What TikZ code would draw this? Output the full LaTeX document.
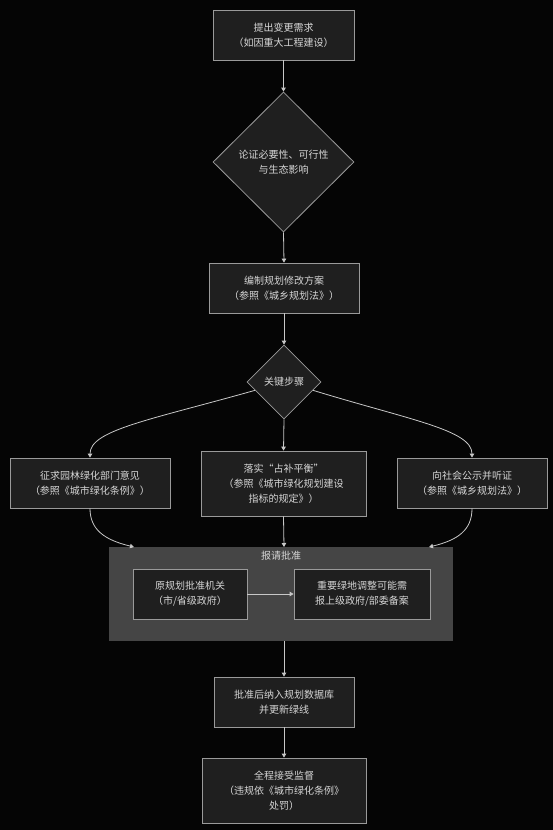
\documentclass[tikz,border=0pt]{standalone}
\usepackage{fontspec}
\setmainfont{Noto Sans CJK SC}
\usetikzlibrary{shapes.geometric,arrows.meta}
\definecolor{bgc}{HTML}{050505}
\definecolor{nodefill}{HTML}{1F1F1F}
\definecolor{nodeline}{HTML}{9A9A9A}
\definecolor{txt}{HTML}{D6D6D6}
\definecolor{grpfill}{HTML}{454545}
\definecolor{arr}{HTML}{C8C8C8}
\tikzset{
  box/.style={rectangle, draw=nodeline, fill=nodefill, line width=0.8pt, inner sep=0pt,
    text=txt, align=center, font=\fontsize{10}{15}\selectfont},
  dia/.style={diamond, draw=nodeline, fill=nodefill, line width=0.8pt, inner sep=0pt,
    text=txt, align=center, font=\fontsize{10}{15}\selectfont},
  grpbox/.style={rectangle, fill=grpfill, draw=none, inner sep=0pt},
  conn/.style={draw=arr, line width=0.8pt, -{Triangle[width=4.5pt,length=4pt]}},
}
\begin{document}
\begin{tikzpicture}[x=1pt,y=-1pt]
\fill[bgc] (0,0) rectangle (553,830);
\useasboundingbox (0,0) rectangle (553,830);

\node[box, minimum width=141pt, minimum height=50pt] (b1) at (283.5,35) {提出变更需求\\（如因重大工程建设）};
\node[dia, minimum width=141pt, minimum height=140pt] (d1) at (283.5,162) {论证必要性、可行性\\与生态影响};
\node[box, minimum width=150pt, minimum height=50pt] (b2) at (284,288) {编制规划修改方案\\（参照《城乡规划法》）};
\node[dia, minimum width=74pt, minimum height=74pt] (d2) at (284,382) {关键步骤};

\node[box, minimum width=160pt, minimum height=50pt] (bl) at (90,483) {征求园林绿化部门意见\\（参照《城市绿化条例》）};
\node[box, minimum width=165pt, minimum height=65pt] (bm) at (283.5,483.5) {落实“占补平衡”\\（参照《城市绿化规划建设\\指标的规定》）};
\node[box, minimum width=150pt, minimum height=50pt] (br) at (472,483) {向社会公示并听证\\（参照《城乡规划法》）};

\node[grpbox, minimum width=344pt, minimum height=94pt] (grp) at (281,594) {};
\node[text=txt, font=\fontsize{10}{15}\selectfont, inner sep=0pt] (grptitle) at (281,556) {报请批准};
\node[box, minimum width=114pt, minimum height=50pt] (ga) at (190,594) {原规划批准机关\\（市/省级政府）};
\node[box, minimum width=136pt, minimum height=50pt] (gb) at (362,594) {重要绿地调整可能需\\报上级政府/部委备案};

\node[box, minimum width=140pt, minimum height=50pt] (b5) at (284,702) {批准后纳入规划数据库\\并更新绿线};
\node[box, minimum width=164pt, minimum height=65pt] (b6) at (284,790.5) {全程接受监督\\（违规依《城市绿化条例》\\处罚）};

\coordinate (gl) at (134,547);
\coordinate (gr) at (429,547);
\coordinate (gm) at (284,547);

\draw[conn] (b1.south) -- (d1.north);
\draw[conn] (d1.south) -- (b2.north);
\draw[conn] (b2.south) -- (d2.north);
\draw[conn] (d2.south) -- (bm.north);
\draw[conn] (d2.196) .. controls (150,420) and (90,430) .. (bl.north);
\draw[conn] (d2.344) .. controls (410,420) and (472,430) .. (br.north);
\draw[conn] (bl.south) .. controls (90,530) and (105,540) .. (gl);
\draw[conn] (br.south) .. controls (472,530) and (458,540) .. (gr);
\draw[conn] (bm.south) -- (gm);
\draw[conn] (ga.east) -- (gb.west);
\draw[conn] (b5.north |- grp.south) -- (b5.north);
\draw[conn] (b5.south) -- (b6.north);
\end{tikzpicture}
\end{document}
